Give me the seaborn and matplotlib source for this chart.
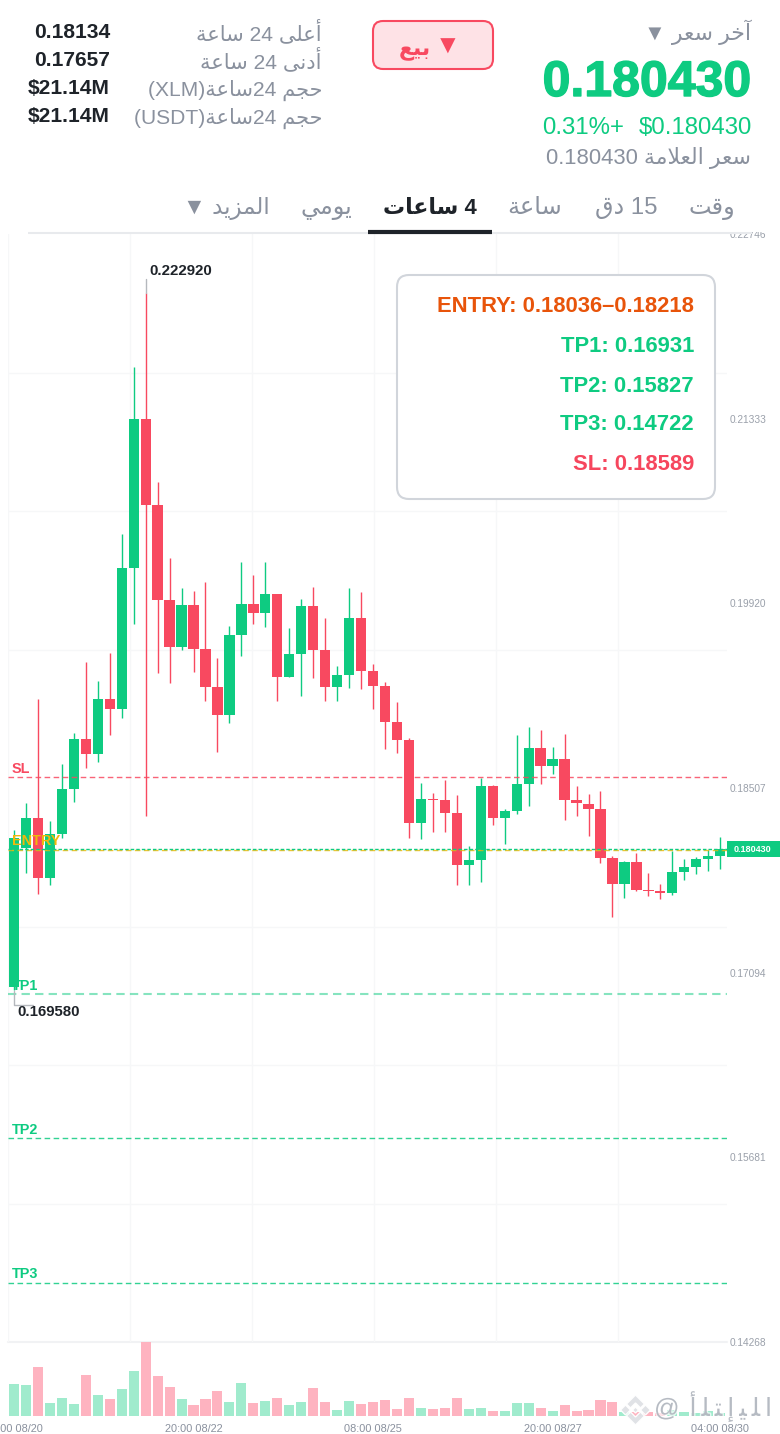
import numpy as np
import pandas as pd
import matplotlib
matplotlib.use("Agg")
import matplotlib.pyplot as plt
import matplotlib.patheffects as pe
from matplotlib.patches import FancyBboxPatch, Polygon
from matplotlib.transforms import Bbox
import seaborn as sns

# candles
opens = [.16984, .18048, .18277, .17818, .18155, .18499, .18882, .18767, .19188, .19112,
         .20190, .21331, .20673, .19946, .19586, .19907, .19571, .19280, .19066, .19678,
         .19915, .19846, .19991, .19356, .19532, .19900, .19563, .19280, .19372, .19808,
         .19402, .19288, .19012, .18874, .18239, .18423, .18415, .18316, .17918, .17956,
         .18522, .18277, .18331, .18538, .18813, .18675, .18729, .18415, .18385, .18346,
         .17971, .17772, .17941, .17728, .17719, .17704, .17864, .17902, .17964, .17987]
highs = [.18186, .18392, .19188, .18254, .18691, .18928, .19471, .19326, .19540, .20451,
         .21728, .22292, .20849, .20267, .20037, .20014, .20083, .19502, .19747, .20236,
         .20137, .20236, .19991, .19731, .19953, .20045, .19808, .19441, .20037, .20007,
         .19456, .19318, .19165, .18890, .18545, .18469, .18568, .18453, .18063, .18584,
         .18530, .18346, .18913, .18974, .18951, .18821, .18920, .18522, .18461, .18484,
         .17987, .17948, .18010, .17857, .17772, .18025, .17964, .17979, .18033, .18132]
lows = [.16958, .17857, .17696, .17765, .18124, .18400, .18660, .18706, .18913, .19043,
        .19762, .18293, .19387, .19310, .19563, .19395, .19173, .18782, .19004, .19517,
        .19762, .19739, .19173, .19356, .19211, .19349, .19173, .19173, .19272, .19265,
        .19112, .18805, .18775, .18124, .18117, .18170, .18170, .17765, .17765, .17788,
        .18224, .18078, .18308, .18369, .18538, .18614, .18262, .18293, .18140, .17933,
        .17520, .17665, .17719, .17681, .17658, .17688, .17803, .17849, .17872, .17887]
closes = [.18124, .18277, .17818, .18155, .18499, .18882, .18767, .19188, .19112, .20190,
          .21331, .20673, .19946, .19586, .19907, .19571, .19280, .19066, .19678, .19915,
          .19846, .19991, .19356, .19532, .19900, .19563, .19280, .19372, .19808, .19402,
          .19288, .19012, .18874, .18239, .18423, .18415, .18316, .17918, .17956, .18522,
          .18277, .18331, .18538, .18813, .18675, .18729, .18415, .18392, .18346, .17971,
          .17772, .17941, .17726, .17720, .17704, .17864, .17902, .17964, .17987, .18043]
volumes = [9.6, 9.3, 14.6, 3.8, 5.4, 3.6, 12.2, 6.3, 5.1, 8.2,
           13.5, 22.2, 12.0, 8.7, 5.1, 3.3, 5.1, 7.5, 4.1, 9.8,
           3.9, 4.4, 5.4, 3.4, 4.3, 8.4, 4.1, 1.7, 4.4, 3.6,
           4.2, 4.9, 2.0, 5.4, 2.4, 2.0, 2.5, 5.4, 2.0, 2.5,
           1.6, 1.5, 4.0, 3.8, 2.4, 1.5, 3.3, 1.4, 1.8, 4.7,
           4.2, 1.2, 1.2, 1.2, 1.0, 1.8, 1.2, 0.8, 1.4, 0.9]
time_ticks = [0, 15, 30, 45, 59]
time_labels = ["08:00 08/20", "20:00 08/22", "08:00 08/25", "20:00 08/27", "04:00 08/30"]
price_ticks = [.14268, .15681, .17094, .18507, .19920, .21333, .22746]
level_names = ["SL", "ENTRY", "TP1", "TP2", "TP3"]
level_prices = [.18589, .18036, .16931, .15827, .14722]
last_price = .18043

GREEN = "#0ecb81"
RED = "#f84960"
GREY = "#8a919e"
DARK = "#1e2329"
ORANGE = "#f0b90b"
GRID = "#f6f7f8"
level_colors = [RED, ORANGE, GREEN, GREEN, GREEN]

# matplotlib does no arabic shaping, so pick the presentation forms by hand
FORMS = {"ا": (0xFE8D, 2), "أ": (0xFE83, 2), "إ": (0xFE87, 2), "آ": (0xFE81, 2), "د": (0xFEA9, 2),
         "ر": (0xFEAD, 2), "ز": (0xFEAF, 2), "و": (0xFEED, 2), "ة": (0xFE93, 2), "ى": (0xFEEF, 2),
         "ب": (0xFE8F, 4), "ت": (0xFE95, 4), "ج": (0xFE9D, 4), "ح": (0xFEA1, 4), "خ": (0xFEA5, 4),
         "س": (0xFEB1, 4), "ع": (0xFEC9, 4), "ق": (0xFED5, 4), "ل": (0xFEDD, 4), "م": (0xFEE1, 4),
         "ن": (0xFEE5, 4), "ي": (0xFEF1, 4)}


def ar(s):
    out = []
    prev_joins = False
    i = 0
    while i < len(s):
        c = s[i]
        nxt = s[i + 1] if i + 1 < len(s) else ""
        if c not in FORMS:
            out.append(c)
            prev_joins = False
            i += 1
            continue
        if c == "ل" and nxt == "ا":
            out.append(chr(0xFEFC if prev_joins else 0xFEFB))
            prev_joins = False
            i += 2
            continue
        base, n = FORMS[c]
        next_joins = n == 4 and nxt in FORMS
        out.append(chr(base + (1 if prev_joins else 0) + (2 if next_joins else 0)))
        prev_joins = next_joins
        i += 1
    return "".join(reversed(out))


sns.set_theme(style="white")
plt.rcParams["font.family"] = ["Liberation Sans", "DejaVu Sans"]

W, H = 780, 1434
fig = plt.figure(figsize=(W / 100, H / 100), dpi=100)


def box(left, top, right, bottom):
    return [left / W, 1 - bottom / H, (right - left) / W, (bottom - top) / H]


df = pd.DataFrame({"i": range(60), "o": opens, "h": highs, "l": lows, "c": closes, "v": volumes})
df["up"] = df.c >= df.o
df["bottom"] = df[["o", "c"]].min(axis=1)
df["height"] = (df.o - df.c).abs()
df["side"] = np.where(df.up, "up", "down")

xlim = (-0.5, 59.57)
ax = fig.add_axes(box(8, 234, 727, 1342), facecolor="none")
vol = fig.add_axes(box(8, 1342, 727, 1416), facecolor="none")

# grid
ax.set_yticks(np.linspace(.14268, .22746, 9), minor=True)
ax.set_xticks(np.arange(6) * 10.19 - 0.5, minor=True)
ax.grid(which="minor", color=GRID, lw=1)
ax.set_axisbelow(True)
ax.axhline(.14268, color="#f1f2f4", lw=1.5, clip_on=False, zorder=0)

# levels
for name, price, col in zip(level_names, level_prices, level_colors):
    ax.axhline(price, color=col, lw=1.5 if name == "TP1" else 1, ls=(0, (4, 2.5)),
               alpha=.5 if name == "TP1" else .85, zorder=1 if name == "TP1" else 4)
    ax.annotate(name, xy=(-0.5, price), xytext=(2.8, 3), textcoords="offset points",
                color=col, fontsize=10.4, fontweight="bold", va="baseline",
                zorder=1 if name == "TP1" else 5, annotation_clip=False)
ax.axhline(last_price, color=GREEN, lw=1, ls=(0, (2.5, 1.5)), zorder=4)

# wicks and bodies
ax.vlines(df.i[df.up], df.l[df.up], df.h[df.up], color=GREEN, lw=1, zorder=2)
ax.vlines(df.i[~df.up], df.l[~df.up], df.h[~df.up], color=RED, lw=1, zorder=2)
for side, col in [("up", GREEN), ("down", RED)]:
    sub = df[df.side == side]
    sns.barplot(x=sub.i.values, y=sub.height.values, bottom=sub.bottom.values, native_scale=True,
                color=col, saturation=1, width=0.86, linewidth=0, errorbar=None, ax=ax, zorder=3)

ax.set_xlim(xlim)
ax.set_ylim(.14268, .22746)
ax.set_xlabel("")
ax.set_ylabel("")
ax.set_yticks(price_ticks)
ax.set_yticklabels([f"{p:.5f}" for p in price_ticks])
ax.set_xticks([])
ax.yaxis.tick_right()
ax.tick_params(axis="y", which="major", length=0, pad=2, labelsize=7.3, labelcolor="#9aa0aa")
ax.tick_params(which="minor", length=0)
ax.yaxis.get_majorticklabels()[-1].set_clip_on(True)
ax.yaxis.get_majorticklabels()[-1].set_clip_box(Bbox([[0, 0], [W, H - 232]]))
sns.despine(ax=ax, left=True, bottom=True, right=True, top=True)

# volume
sns.barplot(data=df, x="i", y="v", hue="side", palette={"up": "#a0ebcd", "down": "#feb3c0"},
            dodge=False, native_scale=True, saturation=1, width=0.84, linewidth=0,
            errorbar=None, legend=False, ax=vol)
vol.set_xlim(xlim)
vol.set_ylim(0, 22.2)
vol.set_xlabel("")
vol.set_ylabel("")
vol.set_yticks([])
vol.set_xticks(time_ticks)
vol.set_xticklabels(time_labels)
vol.tick_params(axis="x", length=0, pad=5.5, labelsize=7.9, labelcolor=GREY)
sns.despine(ax=vol, left=True, bottom=True, right=True, top=True)

# everything around the chart, in pixels
ui = fig.add_axes([0, 0, 1, 1], facecolor="none", zorder=10)
ui.set_xlim(0, W)
ui.set_ylim(H, 0)
ui.axis("off")


def txt(x, y, s, px, color=GREY, ha="right", weight="normal", **kw):
    return ui.text(x, y, s, fontsize=px * .72, color=color, ha=ha, va="baseline", fontweight=weight, **kw)


# header right
txt(751, 40, "▼ " + ar("آخر سعر"), 22)
big = txt(751, 96, "0.180430", 50, GREEN, weight="bold")
big.set_path_effects([pe.withStroke(linewidth=1, foreground=GREEN)])
txt(752, 134, "$0.180430", 24, GREEN)
txt(624, 134, "0.31%+", 24, GREEN)
txt(751, 164, "0.180430 " + ar("سعر العلامة"), 22)

# sell button
ui.add_patch(FancyBboxPatch((373 + 10, 21 + 10), 120 - 20, 48 - 20, boxstyle="round,pad=10,rounding_size=10",
                            fc="#fee2e6", ec=RED, lw=1.5))
txt(431, 55, ar("بيع"), 22, RED, weight="bold")
txt(460, 54, "▼", 26, RED, weight="bold")

# header left
labels_24h = [ar("ساعة") + " 24 " + ar("أعلى"), ar("ساعة") + " 24 " + ar("أدنى"),
              "(XLM)" + ar("ساعة") + "24 " + ar("حجم"), "(USDT)" + ar("ساعة") + "24 " + ar("حجم")]
values_24h = ["0.18134", "0.17657", "$21.14M", "$21.14M"]
for y, lab, val in zip([40, 68, 96, 124], labels_24h, values_24h):
    txt(322, y, lab, 21)
    txt(110, y - 2, val, 21, DARK, weight="bold")

# tabs
tabs = [ar("وقت"), ar("دق") + " 15", ar("ساعة"), ar("ساعات") + " 4", ar("يومي"), "▼ " + ar("المزيد")]
tab_x = [712, 626, 535, 430, 326, 226]
tab_px = [24, 24, 24, 22, 24, 23]
for k, (x, tab, px) in enumerate(zip(tab_x, tabs, tab_px)):
    active = k == 3
    txt(x, 214, tab, px, DARK if active else GREY, ha="center", weight="bold" if active else "normal")
ui.plot([28, 752], [233, 233], color="#e8eaed", lw=1.5, solid_capstyle="butt")
ui.plot([368, 492], [232, 232], color=DARK, lw=3, solid_capstyle="butt")

# high and low callouts
txt(149, 275, "0.222920", 15, DARK, ha="left", weight="bold")
ui.plot([145.5, 145.5], [279, 293], color="#b5b8bd", lw=1)
txt(17, 1016, "0.169580", 15, DARK, ha="left", weight="bold")
ui.plot([14, 14, 33], [991, 1004.5, 1004.5], color="#b5b8bd", lw=1)

# price tag
ui.fill_between([727, 780], 841, 857, color=GREEN, lw=0)
txt(752.5, 852.5, "0.180430", 9, "white", ha="center", weight="bold")

# levels box
ui.add_patch(FancyBboxPatch((397 + 12, 275 + 12), 318 - 24, 224 - 24, boxstyle="round,pad=12,rounding_size=12",
                            fc="white", ec="#d1d5db", lw=1.5))
box_lines = ["ENTRY: 0.18036–0.18218", "TP1: 0.16931", "TP2: 0.15827", "TP3: 0.14722", "SL: 0.18589"]
box_cols = ["#e8540a", GREEN, GREEN, GREEN, "#f6465d"]
for y, line, col in zip([312, 352, 392, 430, 470], box_lines, box_cols):
    txt(694, y, line, 22, col, weight="bold")

# watermark
halo = [pe.withStroke(linewidth=2, foreground="white", alpha=.7)]
cx, cy = 635.5, 1410
for pts in [[(-15, 0), (-10, -5), (-5, 0), (-10, 5)], [(15, 0), (10, -5), (5, 0), (10, 5)],
            [(-9, -6), (0, -15), (9, -6), (5, -2), (0, -7), (-5, -2)],
            [(-9, 6), (0, 15), (9, 6), (5, 2), (0, 7), (-5, 2)], [(-3, 0), (0, -3), (3, 0), (0, 3)]]:
    p = Polygon([(cx + a, cy + b) for a, b in pts], closed=True, fc="#dfe1e5", ec="white", lw=1, alpha=.95, zorder=20)
    ui.add_patch(p)
wm = "@\u2009\u2009" + "\u2009".join(["أ", "\ufee0", "\ufe98", "إ", "\ufef4", "\ufee0", "ا"])
t = txt(772, 1416, wm, 25, "#a9afb8", zorder=21, alpha=.8)
t.set_path_effects(halo)

fig.savefig("out.png", dpi=100, facecolor="white")
